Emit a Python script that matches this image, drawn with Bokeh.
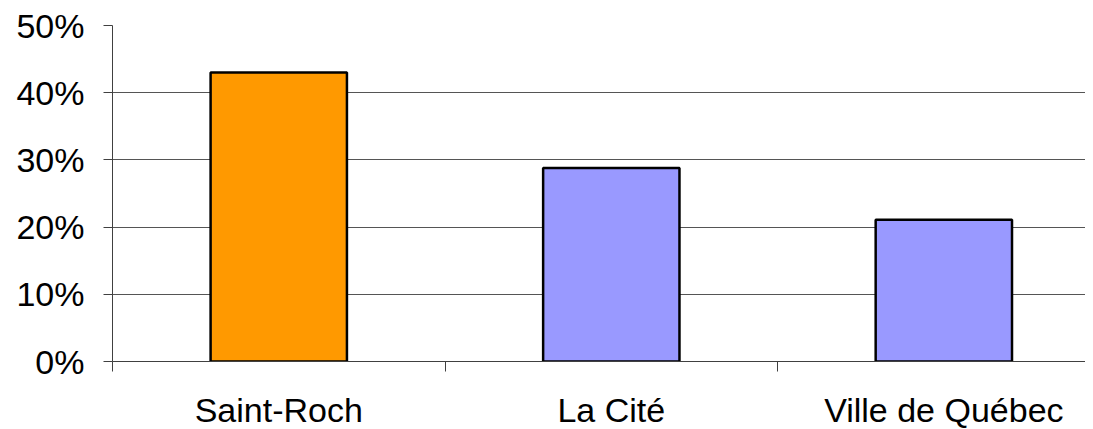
from bokeh.plotting import figure
from bokeh.models import ColumnDataSource, FixedTicker, NumeralTickFormatter, Range1d
from bokeh.embed import file_html
from bokeh.resources import INLINE

categories = ["Saint-Roch", "La Cité", "Ville de Québec"]
values = [0.43, 0.288, 0.211]
colors = ["#FF9900", "#9999FF", "#9999FF"]
y_ticks = [0, 0.1, 0.2, 0.3, 0.4, 0.5]

positions = [i + 0.5 for i in range(len(categories))]
source = ColumnDataSource(dict(x=positions, top=values, color=colors, name=categories))

p = figure(width=1085, height=421, output_backend="svg", toolbar_location=None,
           x_range=Range1d(0, 2.926), y_range=Range1d(0, 0.5),
           min_border_left=112, min_border_right=0, min_border_top=25, min_border_bottom=60)
p.frame_width = 973
p.frame_height = 336
p.outline_line_color = None
p.background_fill_color = "white"

p.vbar(x="x", top="top", bottom=0, width=0.41, fill_color="color",
       line_color="black", line_width=2.5, source=source)

font = "Liberation Sans"

# x axis
p.xaxis.ticker = FixedTicker(ticks=positions, minor_ticks=list(range(len(categories) + 1)))
p.xaxis.major_label_overrides = {pos: name for pos, name in zip(positions, categories)}
p.xaxis.major_tick_out = 0
p.xaxis.major_tick_in = 0
p.xaxis.minor_tick_out = 10
p.xaxis.minor_tick_in = 0
p.xaxis.minor_tick_line_color = "#404040"
p.xaxis.axis_line_color = "#404040"
p.xaxis.major_label_text_font = font
p.xaxis.major_label_text_font_size = "34px"
p.xaxis.major_label_text_color = "black"
p.xaxis.major_label_standoff = 19

# y axis
p.yaxis.ticker = FixedTicker(ticks=y_ticks, minor_ticks=[])
p.yaxis.formatter = NumeralTickFormatter(format="0%")
p.yaxis.major_tick_out = 9
p.yaxis.major_tick_in = 0
p.yaxis.major_tick_line_color = "#404040"
p.yaxis.axis_line_color = "#404040"
p.yaxis.major_label_text_font = font
p.yaxis.major_label_text_font_size = "34px"
p.yaxis.major_label_text_color = "black"
p.yaxis.major_label_standoff = 19

p.xgrid.grid_line_color = None
p.ygrid.ticker = FixedTicker(ticks=y_ticks)
p.ygrid.grid_line_color = "#555555"
p.ygrid.grid_line_width = 1

open("out.html", "w").write(file_html(p, INLINE))
